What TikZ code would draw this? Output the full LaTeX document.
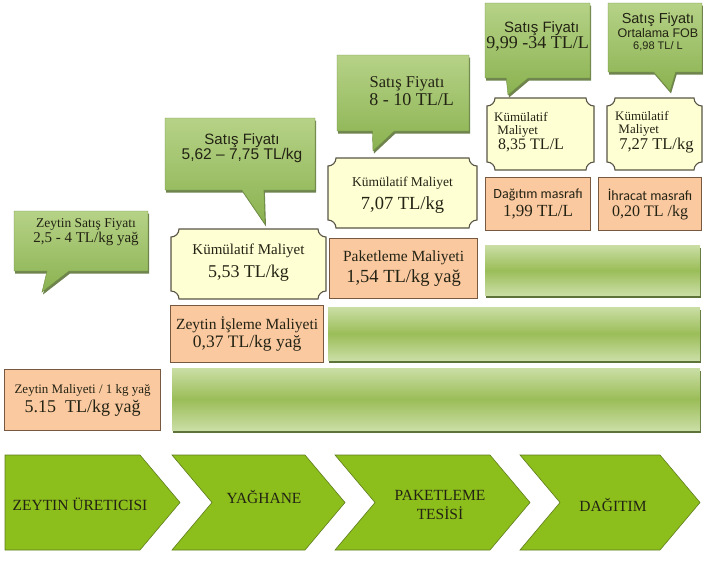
\documentclass[tikz,border=0pt]{standalone}
\usepackage{fontspec}
\setmainfont{Liberation Serif}
\setsansfont{Liberation Sans}
\newfontfamily\calibri{Carlito}
\usetikzlibrary{shapes.callouts,shadows,positioning}

\definecolor{chevgreen}{RGB}{140,190,28}
\definecolor{chevline}{RGB}{95,125,30}
\definecolor{barlight}{RGB}{202,222,165}
\definecolor{barmid}{RGB}{155,189,88}
\definecolor{bardark}{RGB}{75,100,35}
\definecolor{pricetop}{RGB}{182,210,135}
\definecolor{pricebot}{RGB}{138,178,80}
\definecolor{costpeach}{RGB}{251,201,160}
\definecolor{costbrown}{RGB}{120,88,62}
\definecolor{cumcream}{RGB}{255,255,212}
\definecolor{cumgray}{RGB}{88,84,70}
\definecolor{inkdark}{RGB}{35,35,20}

\newcommand{\txtsize}[1]{\fontsize{#1}{\dimexpr#1pt*6/5\relax}\selectfont}

% plaque with concave corners: x0 y0 x1 y1 (y grows downwards)
\newcommand{\cumshape}[4]{%
  \draw[cumline] (#1+8,#2) -- (#3-8,#2)
    .. controls (#3-8,#2+4.4) and (#3-4.4,#2+8) .. (#3,#2+8) -- (#3,#4-8)
    .. controls (#3-4.4,#4-8) and (#3-8,#4-4.4) .. (#3-8,#4) -- (#1+8,#4)
    .. controls (#1+8,#4-4.4) and (#1+4.4,#4-8) .. (#1,#4-8) -- (#1,#2+8)
    .. controls (#1+4.4,#2+8) and (#1+8,#2+4.4) .. cycle;}

\tikzset{
  chevron/.style={draw=chevline, line width=0.6pt, fill=chevgreen},
  stage/.style={text=inkdark, font=\txtsize{15.5}, align=center},
  bar/.style={anchor=north west, inner sep=0pt, top color=barlight, bottom color=barlight, middle color=barmid,
    drop shadow={shadow xshift=1pt, shadow yshift=-3pt, fill=bardark, opacity=.9}},
  price/.style={rectangle callout, draw=pricebot!80!black, line width=0.4pt, top color=pricetop, bottom color=pricebot,
    drop shadow={shadow xshift=1pt, shadow yshift=-2.5pt, fill=bardark, opacity=.8},
    callout pointer width=22pt, inner sep=0pt},
  pricetext/.style={align=center, text=inkdark, inner sep=0pt},
  cost/.style={anchor=north west, draw=costbrown, line width=1.2pt, fill=costpeach, align=center, text=inkdark, inner sep=0pt},
  cumline/.style={draw=cumgray, line width=1.1pt, fill=cumcream},
  cumtext/.style={text=inkdark, inner sep=0pt}
}

\begin{document}
\begin{tikzpicture}[x=1pt,y=-1pt]
  \useasboundingbox (0,0) rectangle (703,563);

  % value chain arrows
  \draw[chevron] (5,455) -- (140,455) -- (180,502.5) -- (140,550) -- (5,550) -- cycle;
  \foreach \l/\t in {172/345, 335/530, 520/700}
    \draw[chevron] (\l,455) -- (\t-40,455) -- (\t,502.5) -- (\t-40,550) -- (\l,550) -- (\l+40,502.5) -- cycle;

  \node[stage] (uretici) at (80,504) {ZEYTIN ÜRETICISI};
  \node[stage] (yaghane) at (264,497) {YAĞHANE};
  \node[stage] (tesis) at (440,505) {PAKETLEME\\TESİSİ};
  \node[stage] (dagitim) at (613,505) {DAĞITIM};

  % green bars
  \node[bar, minimum width=528pt, minimum height=62pt] (bar1) at (172,368) {};
  \node[bar, minimum width=372pt, minimum height=53pt] (bar2) at (328,307) {};
  \node[bar, minimum width=215pt, minimum height=50pt] (bar3) at (485,245) {};

  % costs
  \node[cost, minimum width=156pt, minimum height=61pt] (cost1) at (4,369)
    {\txtsize{13}Zeytin Maliyeti / 1 kg yağ\\[3pt]\txtsize{18}5.15 \ TL/kg yağ};
  \node[cost, minimum width=153pt, minimum height=57pt] (cost2) at (170,305)
    {\txtsize{15.5}Zeytin İşleme Maliyeti\\[2pt]\txtsize{17.5}0,37 TL/kg yağ};
  \node[cost, minimum width=148pt, minimum height=60pt] (cost3) at (329,238)
    {\txtsize{15.5}Paketleme Maliyeti\\[3pt]\txtsize{18.5}1,54 TL/kg yağ};
  \node[cost, minimum width=105pt, minimum height=53pt] (cost4) at (485,177)
    {\calibri\txtsize{14}Dağıtım masrafı\\[3pt]\txtsize{17}1,99 TL/L};
  \node[cost, minimum width=103pt, minimum height=53pt] (cost5) at (598,177)
    {\calibri\txtsize{14}İhracat masrafı\\[4pt]\txtsize{16}0,20 TL /kg};

  % cumulative costs
  \cumshape{171}{229}{326}{299}
  \node[cumtext, align=center] (cum1) at (248.5,263) {\txtsize{15}Kümülatif Maliyet\\[6pt]\txtsize{18}5,53 TL/kg};
  \cumshape{328}{158}{477}{228}
  \node[cumtext, align=center] (cum2) at (402.5,195) {\txtsize{13.5}Kümülatif Maliyet\\[6pt]\txtsize{18.5}7,07 TL/kg};
  \cumshape{487}{98}{594}{170}
  \node[cumtext, align=left, anchor=west] (cum3) at (494,132) {\txtsize{13}Kümülatif\\[1pt]\txtsize{13} Maliyet\\[1pt]\txtsize{16} 8,35 TL/L};
  \cumshape{607}{98}{702}{170}
  \node[cumtext, align=left, anchor=west] (cum4) at (615,132) {\txtsize{13}Kümülatif\\[1pt]\txtsize{13} Maliyet\\[1pt]\txtsize{16.5} 7,27 TL/kg};

  % selling prices
  \node[price, minimum width=134pt, minimum height=60pt, callout absolute pointer={(42,292)}] (price1) at (81,241) {};
  \node[pricetext] (price1text) at (86,232) {\txtsize{13.5}Zeytin Satış Fiyatı\\\txtsize{15}2,5 - 4 TL/kg yağ};
  \node[price, minimum width=150pt, minimum height=72pt, callout absolute pointer={(265,224)}] (price2) at (240,154) {};
  \node[pricetext] (price2text) at (242,148) {\sffamily\txtsize{15}Satış Fiyatı\\\sffamily\txtsize{15.5}5,62 -- 7,75 TL/kg};
  \node[price, minimum width=132pt, minimum height=76pt, callout absolute pointer={(373,151)}] (price3) at (403,93) {};
  \node[pricetext] (price3text) at (407,91) {\txtsize{16.5}Satış Fiyatı\\[1pt]\txtsize{18}\ \ 8 - 10 TL/L};
  \node[price, minimum width=105pt, minimum height=75pt, callout absolute pointer={(508,95)}] (price4) at (537.5,40.5) {};
  \node[pricetext] (price4text) at (537.5,36) {\sffamily\txtsize{15}\ \ Satış Fiyatı\\\txtsize{18}9,99 -34 TL/L};
  \node[price, minimum width=94pt, minimum height=69pt, callout absolute pointer={(670,91)}] (price5) at (655,37.5) {};
  \node[pricetext] (price5text) at (658,32) {\sffamily\txtsize{14.5}Satış Fiyatı\\\sffamily\txtsize{12.5}Ortalama FOB\\\sffamily\txtsize{11}6,98 TL/ L};
\end{tikzpicture}
\end{document}
